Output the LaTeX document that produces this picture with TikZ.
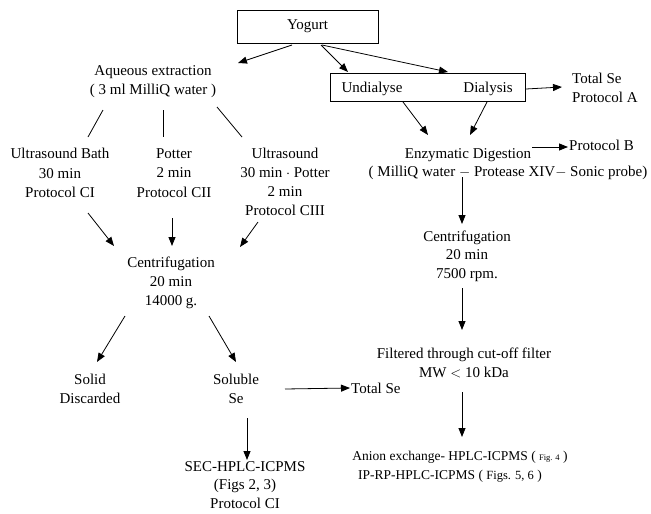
\documentclass[tikz,border=0pt]{standalone}
\usepackage{fontspec}
\setmainfont{Liberation Serif}
\usetikzlibrary{arrows.meta}
\begin{document}
\begin{tikzpicture}[x=1pt,y=-1pt,
  txt/.style={align=center,inner sep=1pt,font=\fontsize{15}{19.2}\selectfont},
  boxed/.style={draw,line width=1pt,minimum width=#1,inner sep=0pt},
  ln/.style={line width=0.8pt},
  ar/.style={line width=0.8pt,-{Triangle[length=9pt,width=7pt]}}]
\useasboundingbox (0,0) rectangle (651,514);
% nodes
\node[boxed=141,minimum height=33,txt] (yog) at (307.5,26.5) {Yogurt};
\node[txt] (aq) at (153,82) {Aqueous extraction\\( 3 ml MilliQ water )};
\node[boxed=195,minimum height=28] (dbox) at (428,87) {};
\node[txt] (und) at (372,89) {Undialyse};
\node[txt] (dia) at (488,89) {Dialysis};
\node[txt,align=left,anchor=west] (totA) at (571,88) {Total Se\\Protocol A};
\node[txt] (ub) at (60,173) {Ultrasound Bath\\30 min\\Protocol CI};
\node[txt] (pot) at (174,173) {Potter\\2 min\\Protocol CII};
\node[txt] (usp) at (285,182) {Ultrasound\\30 min $\cdot$ Potter\\2 min\\Protocol CIII};
\node[txt] (cen1) at (171,283) {Centrifugation\\20 min\\14000 g.};
\node[txt] (solid) at (90,389) {Solid\\Discarded};
\node[txt] (sol) at (236,389) {Soluble\\Se};
\node[txt,anchor=west] (totse) at (350,388) {Total Se};
\node[txt,font=\fontsize{15}{18.5}\selectfont] (sec) at (245,485) {SEC-HPLC-ICPMS\\(Figs 2, 3)\\Protocol CI};
\node[txt] (enz) at (468,155) {Enzymatic Digestion};
\node[txt] (enz2) at (508,173) {( MilliQ water $-$ Protease XIV$-$ Sonic probe)};
\node[txt,anchor=west] (protB) at (568,145) {Protocol B};
\node[txt,font=\fontsize{15}{18.5}\selectfont] (cen2) at (467,256) {Centrifugation\\20 min\\7500 rpm.};
\node[txt] (filt) at (464,363) {Filtered through cut-off filter\\MW $<$ 10 kDa};
\node[txt,font=\fontsize{13.5}{16}\selectfont] (anion) at (460,457) {Anion exchange- HPLC-ICPMS ( {\fontsize{8.5}{10}\selectfont Fig. 4} )};
\node[txt,font=\fontsize{13.5}{16}\selectfont] (iprp) at (450,476) {IP-RP-HPLC-ICPMS ( {\fontsize{12.5}{14}\selectfont Figs. 5, 6} )};
% connectors
\draw[ar] ([shift={(-15.5,18.5)}]yog.center) -- ([shift={(85,-19)}]aq.center);
\draw[ar] ([shift={(13.5,18.5)}]yog.center) -- ([shift={(-24,-17)}]und.center);
\draw[ar] ([shift={(14.5,18.5)}]yog.center) -- ([shift={(-40,-17)}]dia.center);
\draw[ar] ([yshift=-2pt]dbox.east) -- ([shift={(-9,-1)}]totA.west);
\draw[ln] ([shift={(-50,28)}]aq.center) -- ([shift={(28,-36)}]ub.center);
\draw[ln] ([shift={(10,28)}]aq.center) -- ([shift={(-11,-36)}]pot.center);
\draw[ln] ([shift={(64,25)}]aq.center) -- ([shift={(-43,-45)}]usp.center);
\draw[ar] ([shift={(28,40)}]ub.center) -- ([shift={(-57,-37)}]cen1.center);
\draw[ar] ([shift={(-2,45)}]pot.center) -- ([shift={(1,-37)}]cen1.center);
\draw[ar] ([shift={(-27,40)}]usp.center) -- ([shift={(69,-36)}]cen1.center);
\draw[ar] ([shift={(-46,33)}]cen1.center) -- ([shift={(7,-27)}]solid.center);
\draw[ar] ([shift={(38,33)}]cen1.center) -- ([shift={(0,-27)}]sol.center);
\draw[ar] ([shift={(49,0)}]sol.center) -- (totse.west);
\draw[ar] ([shift={(11,29)}]sol.center) -- ([shift={(2,-25)}]sec.center);
\draw[ar] ([shift={(-25,15)}]dbox.center) -- ([shift={(-40,-20)}]enz.center);
\draw[ar] ([shift={(59,15)}]dbox.center) -- ([shift={(2,-20)}]enz.center);
\draw[ar] ([yshift=8pt]enz.east) -- ([yshift=-2pt]protB.west);
\draw[ar] ([shift={(-46,4)}]enz2.center) -- ([shift={(-5,-32)}]cen2.center);
\draw[ar] ([shift={(-5,32)}]cen2.center) -- ([shift={(-2,-33)}]filt.center);
\draw[ar] ([shift={(-2,29)}]filt.center) -- ([shift={(2,-20)}]anion.center);
\end{tikzpicture}
\end{document}
